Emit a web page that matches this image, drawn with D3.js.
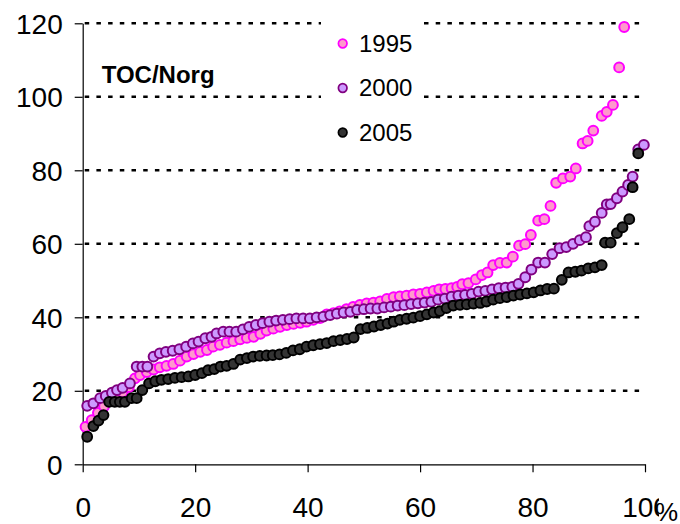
<!DOCTYPE html>
<html>
<head>
<meta charset="utf-8">
<script src="https://cdn.jsdelivr.net/npm/d3@7"></script>
<style>
  html, body { margin: 0; padding: 0; background: #fff; }
  svg { display: block; }
  text { font-family: "Liberation Sans", Arial, Helvetica, sans-serif; fill: #000; }
</style>
</head>
<body>
<svg id="chart" width="680" height="524"></svg>
<script>
// Cumulative distribution of TOC/Norg: percent of lakes (x) vs sorted value (y)
const years = ["1995", "2000", "2005"];

const pct1995 = [
  0.5, 1.6, 2.7, 3.8, 4.9, 6.0, 7.1, 8.2, 9.3, 10.2,
  11.4, 12.6, 13.7, 14.9, 16.1, 17.3, 18.5, 19.7, 20.9, 22.1,
  23.2, 24.4, 25.6, 26.8, 28.0, 29.2, 30.4, 31.6, 32.7, 33.9,
  35.1, 36.3, 37.5, 38.7, 39.8, 41.0, 42.2, 43.4, 44.6, 45.7,
  46.9, 48.1, 49.3, 50.5, 51.7, 52.9, 54.1, 55.3, 56.4, 57.6,
  58.8, 60.0, 61.2, 62.4, 63.4, 64.5, 65.6, 66.6, 67.5, 68.6,
  69.9, 71.0, 72.0, 73.0, 74.2, 75.4, 76.5, 77.6, 78.7, 79.7,
  81.0, 82.1, 83.2, 84.2, 85.4, 86.7, 87.7, 88.9, 89.8, 90.8,
  92.3, 93.2, 94.3, 95.4, 96.3
];
const toc1995 = [
  10.2, 12.0, 14.0, 15.8, 17.2, 18.4, 19.6, 21.0, 23.4, 24.3,
  25.1, 25.8, 26.4, 26.8, 27.3, 28.2, 29.3, 30.0, 30.6, 31.1,
  32.0, 32.5, 33.1, 33.5, 34.0, 34.4, 34.7, 35.5, 36.4, 36.9,
  37.4, 37.9, 38.2, 38.5, 38.8, 39.3, 39.8, 40.8, 41.1, 41.6,
  42.2, 42.8, 43.4, 43.8, 44.0, 44.3, 45.0, 45.5, 45.7, 45.9,
  46.2, 46.4, 46.8, 47.2, 47.6, 47.7, 47.9, 48.3, 49.0, 49.3,
  50.3, 51.5, 52.2, 54.2, 54.8, 54.9, 56.5, 59.5, 59.9, 62.4,
  66.3, 66.7, 70.3, 76.6, 77.8, 78.3, 80.5, 87.3, 88.0, 90.8,
  94.8, 95.9, 97.8, 108.0, 119.0
];

const pct2000 = [
  0.8, 1.9, 3.1, 4.1, 5.2, 6.1, 7.1, 8.4, 9.6, 10.6,
  11.5, 12.6, 13.7, 14.8, 16.0, 17.2, 18.4, 19.6, 20.6, 21.8,
  22.9, 23.8, 25.0, 26.1, 27.3, 28.5, 29.6, 30.8, 32.0, 33.2,
  34.4, 35.6, 36.8, 38.0, 39.2, 40.4, 41.6, 42.8, 44.0, 45.2,
  46.4, 47.6, 48.8, 50.0, 51.2, 52.4, 53.6, 54.8, 56.0, 57.2,
  58.4, 59.6, 60.8, 62.0, 63.2, 64.4, 65.6, 66.8, 68.0, 69.2,
  70.4, 71.6, 72.8, 74.0, 75.2, 76.4, 77.5, 78.7, 79.8, 81.0,
  82.2, 83.5, 84.8, 86.0, 87.2, 88.4, 89.5, 90.1, 91.1, 92.3,
  93.2, 93.9, 95.0, 96.0, 97.0, 97.8, 98.8, 99.8
];
const toc2000 = [
  15.9, 16.6, 18.0, 18.6, 19.5, 20.2, 20.8, 22.0, 26.6, 26.6,
  26.6, 29.3, 30.2, 30.6, 30.9, 31.3, 32.0, 32.9, 33.4, 34.3,
  34.7, 35.6, 36.1, 36.1, 36.1, 36.7, 37.4, 37.9, 38.4, 38.8,
  39.1, 39.3, 39.5, 39.7, 39.7, 39.7, 40.0, 40.2, 40.6, 41.0,
  41.3, 41.5, 42.0, 42.2, 42.4, 42.4, 42.7, 42.9, 43.2, 43.3,
  43.6, 43.8, 44.0, 44.2, 44.8, 45.1, 45.6, 45.9, 46.1, 46.4,
  47.0, 47.2, 47.6, 47.9, 48.1, 48.3, 49.1, 50.9, 53.0, 54.9,
  54.9, 57.2, 58.8, 59.1, 60.0, 61.0, 61.8, 64.8, 66.0, 68.4,
  70.7, 70.8, 72.4, 74.2, 76.0, 78.3, 85.7, 86.9
];

const pct2005 = [
  0.8, 1.9, 2.8, 3.7, 4.7, 5.7, 6.6, 7.5, 8.7, 9.6,
  10.6, 11.8, 12.9, 14.0, 15.2, 16.4, 17.6, 18.8, 20.0, 21.2,
  22.3, 23.4, 24.5, 25.6, 26.8, 28.0, 29.2, 30.3, 31.5, 32.7,
  33.8, 35.0, 36.2, 37.4, 38.6, 39.8, 41.0, 42.2, 43.4, 44.6,
  45.8, 47.0, 48.2, 49.4, 50.6, 51.8, 53.0, 54.2, 55.3, 56.4,
  57.6, 58.8, 60.0, 61.2, 62.4, 63.5, 64.7, 65.9, 67.1, 68.3,
  69.5, 70.7, 71.8, 73.0, 74.2, 75.4, 76.6, 77.8, 79.0, 80.2,
  81.4, 82.6, 83.8, 85.2, 86.4, 87.6, 88.7, 89.9, 91.1, 92.3,
  92.9, 93.9, 95.0, 96.0, 97.2, 97.8, 98.8
];
const toc2005 = [
  7.5, 10.4, 11.9, 13.4, 17.0, 17.0, 17.0, 17.0, 18.0, 18.0,
  20.2, 22.0, 22.6, 23.0, 23.2, 23.5, 23.7, 23.9, 24.3, 24.8,
  25.6, 25.9, 26.6, 26.8, 27.3, 28.5, 28.9, 29.3, 29.5, 29.6,
  29.7, 29.9, 30.3, 31.0, 31.3, 32.0, 32.4, 32.7, 33.0, 33.5,
  33.8, 34.1, 34.5, 36.8, 37.1, 37.5, 37.9, 38.3, 38.8, 39.3,
  39.6, 39.9, 40.3, 40.8, 41.3, 41.7, 42.5, 43.2, 43.4, 43.5,
  43.7, 43.9, 44.3, 44.8, 45.2, 45.5, 45.9, 46.2, 46.5, 46.8,
  47.3, 47.7, 47.8, 50.2, 52.2, 52.4, 52.7, 53.3, 53.6, 54.2,
  60.3, 60.3, 62.9, 64.5, 66.7, 75.4, 84.6
];

const xTicks = [0, 20, 40, 60, 80, 100];
const yTicks = [0, 20, 40, 60, 80, 100, 120];
const chartLabel = "TOC/Norg";
const xUnit = "%";

const series = [
  { name: years[0], pct: pct1995, toc: toc1995, fill: "#ff99cc", stroke: "#ff00ff" },
  { name: years[1], pct: pct2000, toc: toc2000, fill: "#cc99ff", stroke: "#800080" },
  { name: years[2], pct: pct2005, toc: toc2005, fill: "#333333", stroke: "#000000" }
];

const svg = d3.select("#chart");
const x = d3.scaleLinear().domain([0, 100]).range([82.7, 645]);
const y = d3.scaleLinear().domain([0, 120]).range([464.3, 23.3]);

// dotted horizontal gridlines
svg.append("g")
  .selectAll("line")
  .data(yTicks.filter(d => d > 0))
  .join("line")
  .attr("x1", x(0) + 2)
  .attr("x2", 640)
  .attr("y1", d => y(d))
  .attr("y2", d => y(d))
  .attr("stroke", "#000")
  .attr("stroke-width", 2.6)
  .attr("stroke-dasharray", "4.5,7.2");

// axes
const yAxis = svg.append("g")
  .attr("transform", `translate(${x(0)},0)`)
  .call(d3.axisLeft(y).tickValues(yTicks).tickSize(8).tickSizeOuter(0).tickPadding(12));
yAxis.selectAll("text").attr("dy", "0.36em");

const xAxis = svg.append("g")
  .attr("transform", `translate(0,${y(0)})`)
  .call(d3.axisBottom(x).tickValues(xTicks).tickSize(8).tickSizeOuter(0));
xAxis.selectAll("text").attr("y", 52.4).attr("dy", 0);

svg.selectAll(".tick text")
  .style("font-size", "28px")
  .style("font-family", "'Liberation Sans', Arial, sans-serif");
svg.selectAll(".domain, .tick line").attr("stroke", "#000").attr("stroke-width", 1.2);

// unit label next to the last x tick
svg.append("rect")
  .attr("x", 659).attr("y", 494).attr("width", 21).attr("height", 30)
  .attr("fill", "#fff");
svg.append("text")
  .attr("x", 655).attr("y", 521)
  .style("font-size", "26px")
  .text(xUnit);

// data points, one layer per year
series.forEach(s => {
  svg.append("g")
    .selectAll("circle")
    .data(d3.zip(s.pct, s.toc))
    .join("circle")
    .attr("cx", d => x(d[0]))
    .attr("cy", d => y(d[1]))
    .attr("r", 4.9)
    .attr("fill", s.fill)
    .attr("stroke", s.stroke)
    .attr("stroke-width", 2);
});

// legend on a white panel
const legend = svg.append("g");
legend.append("rect")
  .attr("x", 321).attr("y", 8).attr("width", 100).attr("height", 146)
  .attr("fill", "#fff");
const item = legend.selectAll("g.item")
  .data(series)
  .join("g")
  .attr("class", "item")
  .attr("transform", (d, i) => `translate(342.7,${43.5 + i * 44.5})`);
item.append("circle")
  .attr("r", 4.3)
  .attr("fill", d => d.fill)
  .attr("stroke", d => d.stroke)
  .attr("stroke-width", 1.7);
item.append("text")
  .attr("x", 16.3)
  .attr("y", 8.4)
  .style("font-size", "24px")
  .text(d => d.name);

// parameter label
svg.append("text")
  .attr("x", 101.7)
  .attr("y", 83.3)
  .style("font-size", "24px")
  .style("font-weight", "bold")
  .text(chartLabel);
</script>
</body>
</html>
